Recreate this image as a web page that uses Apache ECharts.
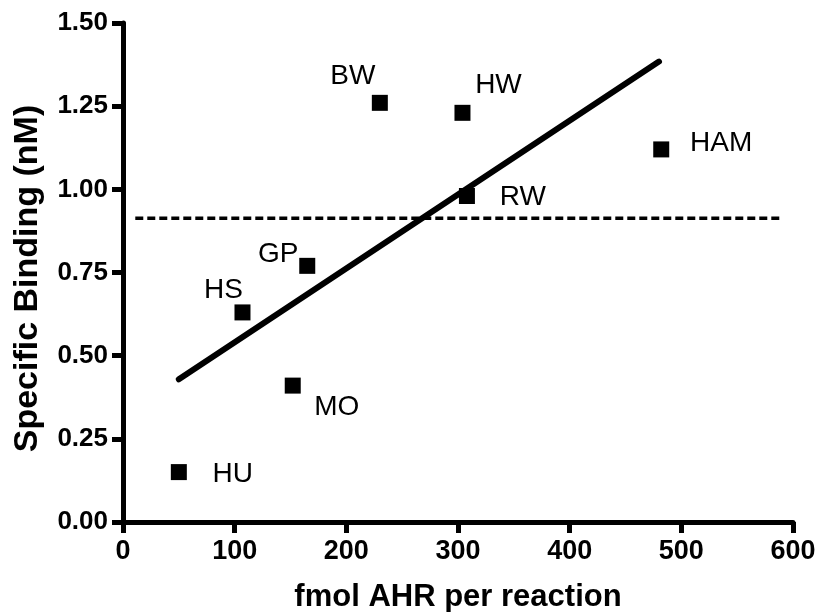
<!DOCTYPE html>
<html>
<head>
<meta charset="utf-8">
<script src="https://cdn.jsdelivr.net/npm/echarts@6/dist/echarts.min.js"></script>
<style>html,body{margin:0;padding:0;background:#fff}#c{width:819px;height:612px}</style>
</head>
<body>
<div id="c"></div>
<script>
var names = ['HU', 'HS', 'MO', 'GP', 'BW', 'HW', 'RW', 'HAM'];
var xVals = [50, 107, 152, 165, 230, 304, 308, 482];
var yVals = [0.15, 0.63, 0.41, 0.77, 1.26, 1.23, 0.98, 1.12];
var fitX = [50, 480];
var fitY = [0.429, 1.384];
var threshX = [11, 591];
var threshY = 0.913;
var xTicks = [0, 100, 200, 300, 400, 500, 600];
var yTicks = [0, 0.25, 0.5, 0.75, 1.0, 1.25, 1.5];

var labelOffsets = {
  HU: [54, 2], HS: [-19, -22], MO: [44, 22], GP: [-29, -12],
  BW: [-27, -27], HW: [36, -28], RW: [56, 1], HAM: [60, -6]
};

var FONT = 'Liberation Sans, Arial, sans-serif';
var chart = echarts.init(document.getElementById('c'));

var pts = names.map(function (n, i) {
  return {
    name: n,
    value: [xVals[i], yVals[i]],
    label: { offset: labelOffsets[n] }
  };
});

chart.setOption({
  animation: false,
  grid: { left: 123, right: 26, top: 23, bottom: 90, containLabel: false, outerBoundsMode: 'none' },
  xAxis: {
    type: 'value', min: xTicks[0], max: xTicks[xTicks.length - 1], interval: 100,
    name: 'fmol AHR per reaction', nameLocation: 'middle', nameGap: 60,
    nameTextStyle: { fontFamily: FONT, fontWeight: 'bold', fontSize: 31, color: '#000' },
    axisLine: { onZero: false, lineStyle: { color: '#000', width: 5 } },
    axisTick: { show: true, inside: false, length: 11, lineStyle: { color: '#000', width: 5 } },
    axisLabel: { fontFamily: FONT, fontWeight: 'bold', fontSize: 27, color: '#000', margin: 16 },
    splitLine: { show: false }
  },
  yAxis: {
    type: 'value', min: yTicks[0], max: yTicks[yTicks.length - 1], interval: 0.25,
    name: 'Specific Binding (nM)', nameLocation: 'middle', nameGap: 78,
    nameTextStyle: { fontFamily: FONT, fontWeight: 'bold', fontSize: 34, color: '#000', padding: [0, 12, 0, 0] },
    axisLine: { onZero: false, lineStyle: { color: '#000', width: 5 } },
    axisTick: { show: true, inside: false, length: 11, lineStyle: { color: '#000', width: 5 } },
    axisLabel: { fontFamily: FONT, fontWeight: 'bold', fontSize: 26, color: '#000', margin: 15,
      formatter: function (v) { return v.toFixed(2); } },
    splitLine: { show: false }
  },
  series: [
    {
      type: 'line',
      data: [[threshX[0], threshY], [threshX[1], threshY]],
      symbol: 'none',
      lineStyle: { color: '#000', width: 3.5, type: [8, 4] },
      z: 1
    },
    {
      type: 'line',
      data: [[fitX[0], fitY[0]], [fitX[1], fitY[1]]],
      symbol: 'none',
      lineStyle: { color: '#000', width: 6, cap: 'round' },
      z: 2
    },
    {
      type: 'scatter',
      data: pts,
      symbol: 'rect',
      symbolSize: 16,
      itemStyle: { color: '#000', opacity: 1 },
      label: {
        show: true, position: 'inside', formatter: '{b}',
        fontFamily: FONT, fontSize: 28, color: '#000'
      },
      z: 3
    }
  ]
});
</script>
</body>
</html>
